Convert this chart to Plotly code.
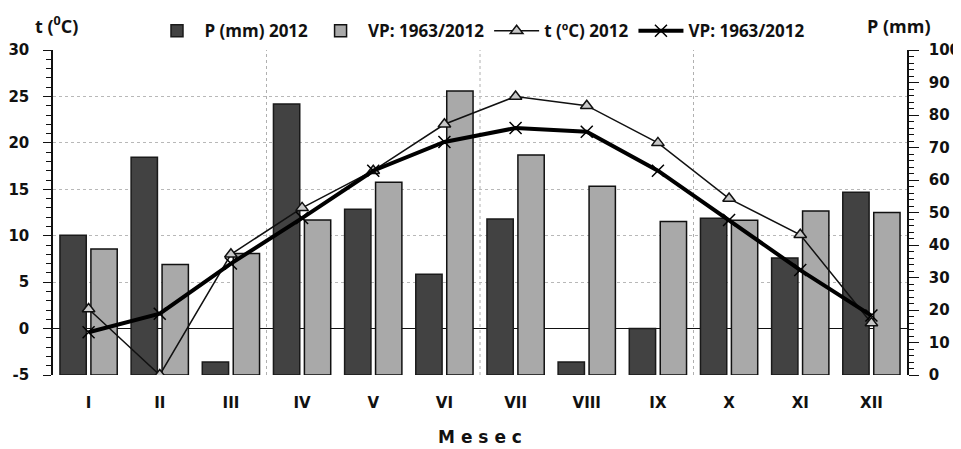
import plotly.graph_objects as go

months = ["I", "II", "III", "IV", "V", "VI", "VII", "VIII", "IX", "X", "XI", "XII"]
p_2012 = [43, 67, 4, 83.4, 51, 31, 48, 4, 14.3, 48.2, 36, 56.2]
p_vp = [38.8, 34, 37.4, 47.7, 59.3, 87.4, 67.7, 58.1, 47.2, 47.6, 50.5, 50]
t_2012 = [2.1, -5, 8.0, 13.0, 17.0, 22.0, 25.0, 24.0, 20.0, 14.0, 10.1, 0.6]
t_vp = [-0.4, 1.6, 7.0, 11.9, 17.0, 20.1, 21.6, 21.2, 17.0, 11.7, 6.3, 1.4]
t_ticks = [-5, 0, 5, 10, 15, 20, 25, 30]
t_ticklabels = ["-5", "0", "5", "10", "15", "20", "25", "30"]

tick_font = dict(family="DejaVu Sans", size=15, color="#111111", weight="bold")
leg_font = dict(family="Open Sans", size=17, color="#111111", weight="bold")

fig = go.Figure()
fig.add_trace(go.Bar(
    x=months, y=p_2012, name="P (mm) 2012", yaxis="y",
    marker=dict(color="#424242", line=dict(color="#1a1a1a", width=1.5)),
))
fig.add_trace(go.Bar(
    x=months, y=p_vp, name="VP: 1963/2012", yaxis="y",
    marker=dict(color="#a9a9a9", line=dict(color="#111111", width=1.5)),
))
fig.add_trace(go.Scatter(
    x=months, y=t_2012, name="t (ºC) 2012", yaxis="y2", mode="lines+markers",
    line=dict(color="#111111", width=1.5),
    marker=dict(symbol="triangle-up", size=11, color="#c8c8c8",
                line=dict(color="#111111", width=1.5)),
))
fig.add_trace(go.Scatter(
    x=months, y=t_vp, name="VP: 1963/2012", yaxis="y2", mode="lines+markers",
    line=dict(color="#000000", width=4),
    marker=dict(symbol="x-thin", size=12, color="#000000",
                line=dict(color="#000000", width=1.5)),
))

# vertical grid lines every 3 months
for xb in [2.5, 5.5, 8.5]:
    fig.add_shape(type="line", xref="x", yref="paper", x0=xb, x1=xb, y0=0, y1=1,
                  line=dict(color="#b0b0b0", width=1, dash="dot"), layer="below")

fig.update_layout(
    width=961, height=449,
    margin=dict(l=45, r=62, t=42, b=82, autoexpand=False),
    paper_bgcolor="white", plot_bgcolor="white",
    barmode="group", bargap=0.13, bargroupgap=0.15,
    showlegend=True,
    legend=dict(orientation="h", x=0.5, xanchor="center", y=1.058, yanchor="middle",
                font=leg_font, itemwidth=45, traceorder="normal",
                bgcolor="rgba(0,0,0,0)"),
    xaxis=dict(
        type="category", range=[-0.5, 11.5], showline=False, showgrid=False,
        ticks="", automargin=False,
        tickfont=tick_font, ticklabelstandoff=17,
        title=dict(text="M e s e c", font=dict(family="DejaVu Sans", size=17,
                   color="#111111", weight="bold"), standoff=20),
    ),
    yaxis=dict(
        side="right", range=[0, 100], dtick=10, showgrid=False, zeroline=False,
        automargin=False,
        showline=True, linecolor="#111111", linewidth=1.5,
        ticks="outside", ticklen=10, tickwidth=1, tickcolor="#111111",
        minor=dict(dtick=2, ticks="outside", ticklen=5, tickcolor="#111111"),
        tickfont=tick_font, ticklabelstandoff=7,
    ),
    yaxis2=dict(
        overlaying="y", side="left", range=[-5, 30],
        tickmode="array", tickvals=t_ticks, ticktext=t_ticklabels,
        automargin=False,
        showgrid=True, gridcolor="#b8b8b8", griddash="dot", gridwidth=1,
        zeroline=True, zerolinecolor="#111111", zerolinewidth=1,
        showline=True, linecolor="#111111", linewidth=1.5,
        ticks="outside", ticklen=8, tickwidth=1, tickcolor="#111111",
        minor=dict(dtick=1, ticks="outside", ticklen=5, tickcolor="#111111"),
        tickfont=tick_font, ticklabelstandoff=11,
    ),
    annotations=[
        dict(text="t (<sup>0</sup>C)", xref="paper", yref="paper", x=0.032, y=1.077,
             xanchor="right", yanchor="middle", showarrow=False,
             font=dict(family="Open Sans", size=18, color="#111111", weight="bold")),
        dict(text="P (mm)", xref="paper", yref="paper", x=0.991, y=1.074,
             xanchor="center", yanchor="middle", showarrow=False,
             font=dict(family="Open Sans", size=18, color="#111111", weight="bold")),
    ],
)

fig.write_html("out.html")
